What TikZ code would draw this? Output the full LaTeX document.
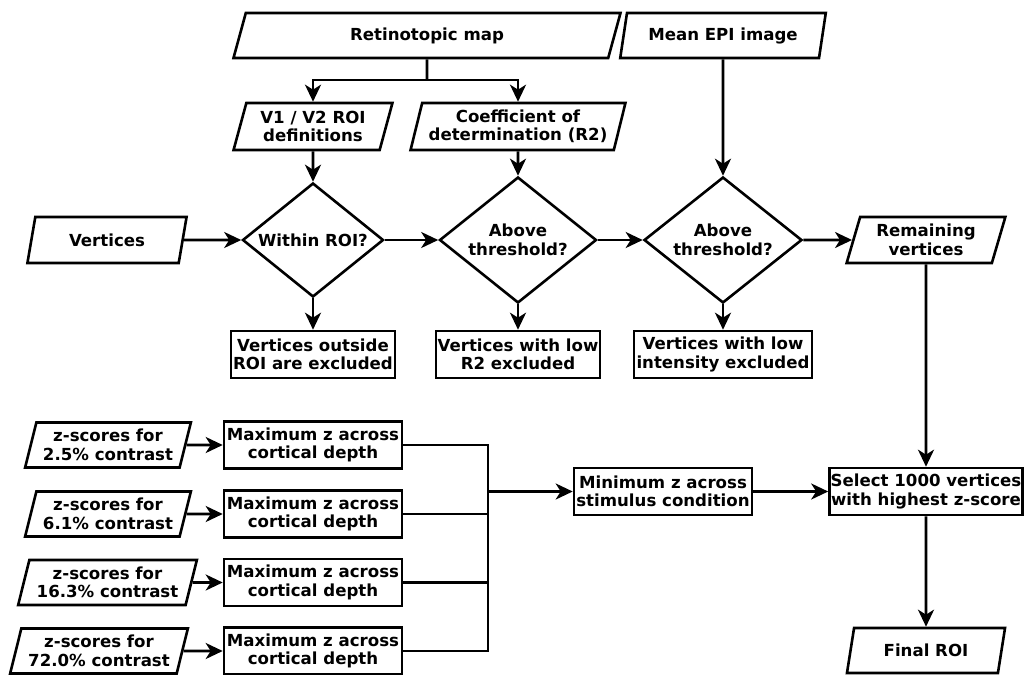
\documentclass[tikz,border=0pt]{standalone}
\usepackage{fontspec}
\setmainfont{DejaVu Sans}
\usetikzlibrary{shapes.geometric,arrows.meta}
\begin{document}
\begin{tikzpicture}[x=1pt,y=-1pt,
  base/.style={draw, line width=2.6pt, font=\fontsize{16.6}{18.5}\selectfont\bfseries, align=center, inner sep=0pt},
  para/.style={base, trapezium, trapezium left angle=72, trapezium right angle=108, trapezium stretches=true, minimum height=45pt},
  box/.style={base, rectangle, minimum height=47pt},
  dia/.style={base, diamond, aspect=1.25},
  arr/.style={line width=2.6pt, -{Stealth[length=17pt,width=16pt,inset=5pt]}},
  ln/.style={line width=2.6pt}]
\useasboundingbox (0,0) rectangle (1026,675);
% top inputs
\node[para, minimum width=388pt] (ret) at (427,35.5) {Retinotopic map};
\node[para, minimum width=206pt] (epi) at (723,35.5) {Mean EPI image};
\node[para, minimum width=159pt, minimum height=47pt] (v1) at (313,126.5) {V1 / V2 ROI\\definitions};
\node[para, minimum width=215pt, minimum height=47pt] (coef) at (518,126.5) {Coefficient of\\determination (R2)};
% row of decisions
\node[para, minimum width=160pt, minimum height=46pt] (vert) at (107,240) {Vertices};
\node[dia, minimum width=141pt, minimum height=114pt] (d1) at (313,240) {Within ROI?};
\node[dia, minimum width=157pt, minimum height=126pt] (d2) at (518,240) {Above\\threshold?};
\node[dia, minimum width=158pt, minimum height=126pt] (d3) at (723,240) {Above\\threshold?};
\node[para, minimum width=159pt, minimum height=46pt] (rem) at (926,240) {Remaining\\vertices};
% exclusions
\node[box, minimum width=164pt] (o1) at (313,354.5) {Vertices outside\\ROI are excluded};
\node[box, minimum width=164pt] (o2) at (518,354.5) {Vertices with low\\R2 excluded};
\node[box, minimum width=178pt] (o3) at (723,354.5) {Vertices with low\\intensity excluded};
% z-scores
\node[para, minimum width=166pt] (z1) at (108,445) {z-scores for\\2.5\% contrast};
\node[para, minimum width=166pt] (z2) at (108,514) {z-scores for\\6.1\% contrast};
\node[para, minimum width=179pt] (z3) at (107.5,582.5) {z-scores for\\16.3\% contrast};
\node[para, minimum width=178pt] (z4) at (99,651) {z-scores for\\72.0\% contrast};
\node[box, minimum width=178pt] (m1) at (313,445) {Maximum z across\\cortical depth};
\node[box, minimum width=178pt] (m2) at (313,514) {Maximum z across\\cortical depth};
\node[box, minimum width=178pt] (m3) at (313,582.5) {Maximum z across\\cortical depth};
\node[box, minimum width=178pt] (m4) at (313,651) {Maximum z across\\cortical depth};
\node[box, minimum width=178pt] (mn) at (663,491.5) {Minimum z across\\stimulus condition};
\node[box, minimum width=193pt] (sel) at (926,491.5) {Select 1000 vertices\\with highest z-score};
\node[para, minimum width=159pt] (fin) at (926,650.5) {Final ROI};
% connectors
\coordinate (sp) at (427,80);
\draw[ln] (ret.south) -- (sp);
\draw[arr] (sp) -| (v1.north);
\draw[arr] (sp) -| (coef.north);
\draw[arr] (v1.south) -- (d1.north);
\draw[arr] (coef.south) -- (d2.north);
\draw[arr] (epi.south) -- (d3.north);
\draw[arr] (vert.east) -- (d1.west);
\draw[arr] (d1.east) -- (d2.west);
\draw[arr] (d2.east) -- (d3.west);
\draw[arr] (d3.east) -- (rem.west);
\draw[arr] (d1.south) -- (o1.north);
\draw[arr] (d2.south) -- (o2.north);
\draw[arr] (d3.south) -- (o3.north);
\draw[arr] (z1.east) -- (m1.west);
\draw[arr] (z2.east) -- (m2.west);
\draw[arr] (z3.east) -- (m3.west);
\draw[arr] (z4.east) -- (m4.west);
\coordinate (bus) at (488,491.5);
\draw[ln] (m1.east) -- (m1.east -| bus) -- (m4.east -| bus) -- (m4.east);
\draw[ln] (m2.east) -- (m2.east -| bus);
\draw[ln] (m3.east) -- (m3.east -| bus);
\draw[arr] (bus) -- (mn.west);
\draw[arr] (mn.east) -- (sel.west);
\draw[arr] (rem.south) -- (sel.north);
\draw[arr] (sel.south) -- (fin.north);
\end{tikzpicture}
\end{document}
